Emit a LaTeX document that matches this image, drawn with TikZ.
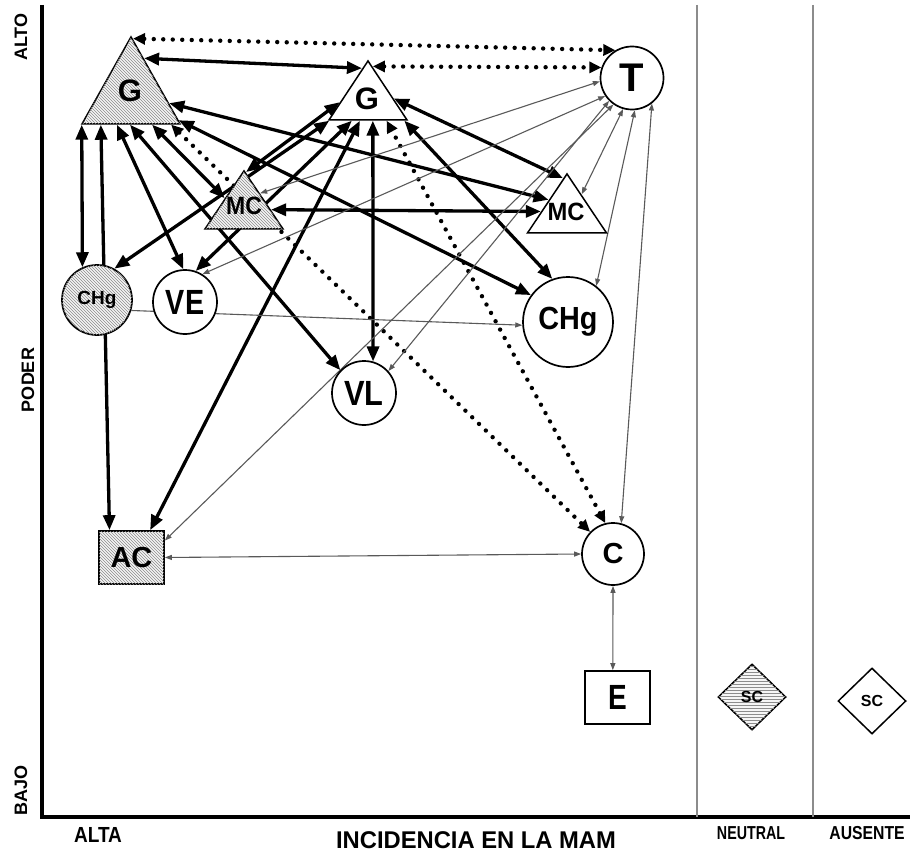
\documentclass[tikz,border=0pt]{standalone}
\usepackage{fontspec}
\setmainfont{Liberation Sans}
\usetikzlibrary{shapes.geometric,arrows.meta,calc,patterns,backgrounds}
\newcommand\myfs[1]{\fontsize{#1}{#1}\selectfont\bfseries}
\begin{document}
\begin{tikzpicture}[x=1pt,y=-1pt,
  tk/.style={line width=3.3pt, {Triangle[length=15pt,width=12pt]}-{Triangle[length=15pt,width=12pt]}},
  dt/.style={line width=4.4pt, line cap=round, dash pattern=on 0pt off 9.5pt, {Triangle[length=12pt,width=11pt]}-{Triangle[length=12pt,width=11pt]}},
  tn/.style={line width=1.1pt, draw=black!65, {Triangle[length=7pt,width=5pt]}-{Triangle[length=7pt,width=5pt]}},
  tnone/.style={line width=1.1pt, draw=black!65, -{Triangle[length=7pt,width=5pt]}},
  hatch/.style={fill=gray!8, postaction={pattern=north west lines, pattern color=black!45}},
  hatchh/.style={fill=gray!8, postaction={pattern=horizontal lines, pattern color=black!45}},
  circ/.style={circle, draw, line width=1.7pt, fill=white, inner sep=0pt},
  box/.style={rectangle, draw, line width=1.7pt, fill=white, inner sep=0pt, minimum width=65pt, minimum height=53pt},
  tri/.style={isosceles triangle, isosceles triangle stretches, shape border rotate=90, draw, line width=1.5pt, fill=white, inner sep=0pt, anchor=apex},
  dia/.style={diamond, draw, line width=1.5pt, fill=white, inner sep=0pt, minimum width=68pt, minimum height=66pt},
  lab/.style={inner sep=0pt},
]
\useasboundingbox (0,0) rectangle (910,853);

% triangles
\node[tri, hatch, minimum width=98pt, minimum height=87pt] (G1) at (131,35) {};
\node[tri, minimum width=78pt, minimum height=59pt] (G2) at (368,59) {};
\node[tri, hatch, minimum width=78pt, minimum height=58pt] (MC1) at (244,169) {};
\node[tri, minimum width=79pt, minimum height=59pt] (MC2) at (567,172) {};
\node[lab, font=\myfs{31}] (G1t) at (130,91) {G};
\node[lab, font=\myfs{31}] (G2t) at (367,99) {G};
\node[lab, font=\myfs{25}] (MC1t) at (244,206) {\scalebox{0.92}[1]{MC}};
\node[lab, font=\myfs{25}] (MC2t) at (566,212) {\scalebox{0.95}[1]{MC}};

% circles
\node[circ, minimum size=63pt, font=\myfs{40}] (T) at (632,78) {T};
\node[circ, hatch, minimum size=70pt, font=\myfs{19}] (CHg1) at (97,300) {CHg};
\node[circ, minimum size=64pt, font=\myfs{35}] (VE) at (185,302) {\scalebox{0.82}[1]{VE}};
\node[circ, minimum size=90pt, font=\myfs{32}] (CHg2) at (568,322) {\scalebox{0.9}[1]{CHg}};
\node[circ, minimum size=64pt, font=\myfs{35}] (VL) at (364,393) {\scalebox{0.88}[1]{VL}};
\node[circ, minimum size=62pt, font=\myfs{29}] (C) at (613,554) {C};

% boxes and diamonds
\node[box, hatch, font=\myfs{29}] (AC) at (131.5,557.5) {AC};
\node[box, font=\myfs{35}] (E) at (617.5,697.5) {\scalebox{0.8}[1]{E}};
\node[dia, hatchh, font=\myfs{16}] (SC1) at (752,697) {SC};
\node[dia, font=\myfs{16}] (SC2) at (872,701) {SC};

% axis labels
\node[lab, rotate=90, font=\myfs{18}] (alto) at (21,37) {ALTO};
\node[lab, rotate=90, font=\myfs{18}] (poder) at (28,380) {PODER};
\node[lab, rotate=90, font=\myfs{18}] (bajo) at (21,790) {BAJO};
\node[lab, font=\myfs{19}] (alta) at (98,835) {\scalebox{1}[1.15]{ALTA}};
\node[lab, font=\myfs{22}] (inc) at (476,840) {\scalebox{1.08}[1.1]{INCIDENCIA EN LA MAM}};
\node[lab, font=\myfs{15}] (neutral) at (751,833) {\scalebox{0.95}[1.25]{NEUTRAL}};
\node[lab, font=\myfs{15}] (ausente) at (867,833) {\scalebox{1.05}[1.25]{AUSENTE}};

\begin{scope}[on background layer]
% axes
\draw[line width=4pt] (42,5) -- (42,817) -- (910,817);
\draw[black!45, line width=1.2pt] (697,5) -- (697,817);
\draw[black!45, line width=1.2pt] (813,5) -- (813,817);

% thick connectors
\draw[tk] ($(G1.apex)!0.26!(G1.right corner)$) -- ($(G2.apex)!0.15!(G2.left corner)$);
\draw[tk] ($(G1.left corner)!0.01!(G1.right corner)$) -- (CHg1.114);
\draw[tk] ($(G1.left corner)!0.2!(G1.right corner)$) -- ($(AC.north west)!0.17!(AC.north east)$);
\draw[tk] ($(G1.left corner)!0.36!(G1.right corner)$) -- (VE.93);
\draw[tk] ($(G1.left corner)!0.49!(G1.right corner)$) -- (VL.136);
\draw[tk] ($(G1.left corner)!0.71!(G1.right corner)$) -- ($(MC1.apex)!0.48!(MC1.left corner)$);
\draw[tk] ($(G1.apex)!0.95!(G1.right corner)$) -- (CHg2.144);
\draw[tk] ($(G1.apex)!0.76!(G1.right corner)$) -- ($(MC2.apex)!0.45!(MC2.left corner)$);
\draw[tk] ($(G2.apex)!0.7!(G2.left corner)$) -- ($(MC1.apex)!0.05!(MC1.right corner)$);
\draw[tk] (CHg1.61) -- ($(G2.left corner)!0.02!(G2.right corner)$);
\draw[tk] (VE.71) -- ($(G2.left corner)!0.3!(G2.right corner)$);
\draw[tk] ($(AC.north west)!0.78!(AC.north east)$) -- ($(G2.left corner)!0.4!(G2.right corner)$);
\draw[tk] (VL.74) -- ($(G2.left corner)!0.56!(G2.right corner)$);
\draw[tk] (CHg2.110) -- ($(G2.left corner)!0.95!(G2.right corner)$);
\draw[tk] ($(G2.apex)!0.64!(G2.right corner)$) -- ($(MC2.apex)!0.1!(MC2.left corner)$);
\draw[tk] ($(MC1.apex)!0.67!(MC1.right corner)$) -- ($(MC2.apex)!0.64!(MC2.left corner)$);

% dotted connectors
\draw[dt] ($(G1.apex)!0.04!(G1.right corner)$) -- (T.121);
\draw[dt] ($(G2.apex)!0.12!(G2.right corner)$) -- (T.161);
\draw[dt] ($(G1.left corner)!0.9!(G1.right corner)$) -- (C.136);
\draw[dt] (C.104) -- ($(G2.left corner)!0.73!(G2.right corner)$);

% thin connectors
\draw[tn] (T.186) -- ($(MC1.apex)!0.4!(MC1.right corner)$);
\draw[tn] (T.214) -- (VE.58);
\draw[tn] (T.225) -- (VL.42);
\draw[tn] (T.235) -- ($(AC.north east)!0.19!(AC.south east)$);
\draw[tn] (T.254) -- ($(MC2.apex)!0.36!(MC2.right corner)$);
\draw[tn] (T.275) -- (CHg2.52);
\draw[tn] (T.308) -- (C.75);
\draw[tnone] (CHg1.-17) -- (CHg2.184);
\draw[tn] (AC.east) -- (C.west);
\draw[tn] (C.south) -- ($(E.north west)!0.43!(E.north east)$);
\end{scope}
\end{tikzpicture}
\end{document}
